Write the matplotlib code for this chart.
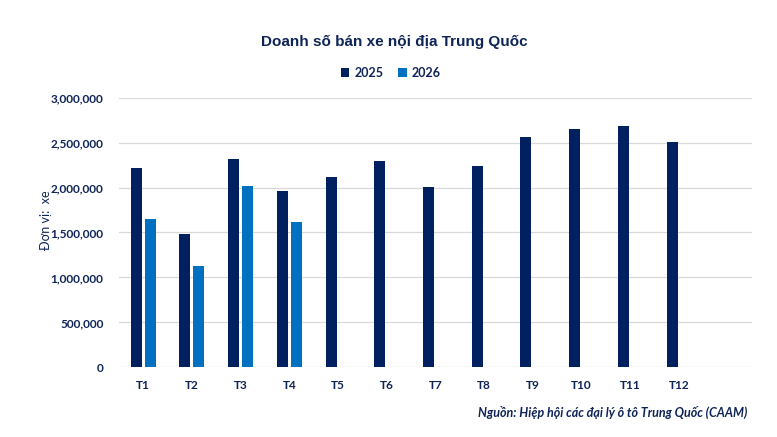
import numpy as np
import matplotlib
matplotlib.use("Agg")
import matplotlib.pyplot as plt
from matplotlib.ticker import FuncFormatter

months = ["T1", "T2", "T3", "T4", "T5", "T6", "T7", "T8", "T9", "T10", "T11", "T12", ""]
sales_2025 = [2218000, 1483000, 2318000, 1962000, 2118000, 2296000, 2006000,
              2240000, 2563000, 2652000, 2685000, 2507000, np.nan]
sales_2026 = [1650000, 1127000, 2017000, 1617000, np.nan, np.nan, np.nan,
              np.nan, np.nan, np.nan, np.nan, np.nan, np.nan]

NAVY = "#002060"
BLUE = "#0070C0"
TEXT = "#0F2456"

plt.rcParams["font.family"] = ["Lato", "DejaVu Sans"]

fig = plt.figure(figsize=(7.77, 4.37), dpi=100)
ax = fig.add_axes([0.153, 0.1595, 0.815, 0.617])

x = np.arange(len(months))
w = 0.226
ax.bar(x - 0.144, sales_2025, width=w, color=NAVY, label="2025", zorder=3)
ax.bar(x + 0.144, sales_2026, width=w, color=BLUE, label="2026", zorder=3)

ax.set_xlim(-0.5, len(months) - 0.5)
ax.set_ylim(0, 3000000)
ax.set_yticks(np.arange(0, 3000001, 500000))
ax.yaxis.set_major_formatter(FuncFormatter(lambda v, p: f"{int(v):,}"))
ax.set_xticks(x)
ax.set_xticklabels(months)
ax.grid(axis="y", color="#D9D9D9", linewidth=0.9, zorder=0)
ax.set_axisbelow(True)
for s in ax.spines.values():
    s.set_visible(False)
ax.tick_params(axis="both", length=0, labelsize=8.5, colors=TEXT)
ax.tick_params(axis="y", pad=11)
ax.tick_params(axis="x", pad=9)
for lbl in ax.get_xticklabels() + ax.get_yticklabels():
    lbl.set_fontweight("bold")

ax.set_ylabel("Đơn vị:  xe", fontsize=9, color=TEXT)
ax.yaxis.set_label_coords(-0.105, 0.546)

fig.text(0.508, 0.905, "Doanh số bán xe nội địa Trung Quốc", ha="center", va="center",
         fontsize=11, fontweight="bold", color=TEXT, family=["Liberation Sans", "DejaVu Sans"])

leg = fig.legend(loc="center", bbox_to_anchor=(0.503, 0.833), ncol=2, frameon=False,
                 handlelength=0.7, handleheight=0.7, handletextpad=0.4,
                 columnspacing=1.2, prop={"weight": "bold", "size": 9})
for t in leg.get_texts():
    t.set_color(TEXT)

fig.text(0.962, 0.057, "Nguồn: Hiệp hội các đại lý ô tô Trung Quốc (CAAM)", ha="right",
         va="center", fontsize=9, style="italic", fontweight="bold", color=TEXT)

fig.savefig("out.png", dpi=100)
